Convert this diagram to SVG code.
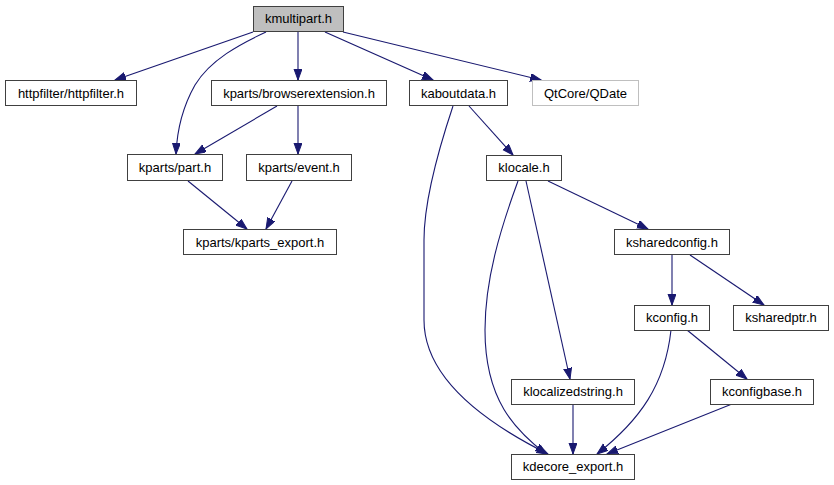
<svg xmlns="http://www.w3.org/2000/svg" width="834" height="485" viewBox="0 0 834 485">
<style>
.n rect{fill:#fff;stroke:#404040;stroke-width:1}
.n text{font-family:"Liberation Sans",Arial,sans-serif;font-size:13px;text-anchor:middle;fill:#000}
.e path{fill:none;stroke:#191970;stroke-width:1.1}
</style>
<defs>
<marker id="a" markerUnits="userSpaceOnUse" markerWidth="12" markerHeight="10" refX="11" refY="4" orient="auto">
<path d="M0,0 L11,4 L0,8 z" fill="#191970" stroke="#191970"/>
</marker>
</defs>
<rect width="834" height="485" fill="#fff"/>
<g id="edges" class="e">
<path marker-end="url(#a)" d="M253,32 L115,80"/>
<path marker-end="url(#a)" d="M266,32 C240,44 210,60 195,85 C182,108 177,130 176,154"/>
<path marker-end="url(#a)" d="M298,32 L298,80"/>
<path marker-end="url(#a)" d="M325,32 L433,80"/>
<path marker-end="url(#a)" d="M343,32 L541,80"/>
<path marker-end="url(#a)" d="M277,106 L195,154"/>
<path marker-end="url(#a)" d="M298,106 L298,154"/>
<path marker-end="url(#a)" d="M188,181 L247,229"/>
<path marker-end="url(#a)" d="M292,181 L266,229"/>
<path marker-end="url(#a)" d="M469,106 L513,155"/>
<path marker-end="url(#a)" d="M453,106 C440,145 424,200 424,240 L424,320 C424,380 490,425 548,454"/>
<path marker-end="url(#a)" d="M518,181 C500,230 485,280 485,330 C485,400 515,430 546,454"/>
<path marker-end="url(#a)" d="M526,181 L570,379"/>
<path marker-end="url(#a)" d="M548,181 L648,229"/>
<path marker-end="url(#a)" d="M672,255 L672,305"/>
<path marker-end="url(#a)" d="M690,255 L764,305"/>
<path marker-end="url(#a)" d="M671,330 C665,385 640,420 597,454"/>
<path marker-end="url(#a)" d="M687,330 L747,379"/>
<path marker-end="url(#a)" d="M732,404 L607,454"/>
<path marker-end="url(#a)" d="M573,404 L573,454"/>
</g>
<g id="kmultipart" class="n"><rect x="253.5" y="6.5" width="90" height="25" style="fill:#bfbfbf"/><text x="298.5" y="23">kmultipart.h</text></g>
<g id="httpfilter" class="n"><rect x="5.5" y="80.5" width="131" height="25"/><text x="71" y="97.5">httpfilter/httpfilter.h</text></g>
<g id="browserextension" class="n"><rect x="211.5" y="80.5" width="175" height="25"/><text x="299" y="97.5">kparts/browserextension.h</text></g>
<g id="kaboutdata" class="n"><rect x="409.5" y="80.5" width="98" height="25"/><text x="458.5" y="97.5">kaboutdata.h</text></g>
<g id="qdate" class="n"><rect x="532.5" y="80.5" width="106" height="25" style="stroke:#bfbfbf"/><text x="585.5" y="97.5">QtCore/QDate</text></g>
<g id="part" class="n"><rect x="127.5" y="154.5" width="95" height="26"/><text x="175" y="172">kparts/part.h</text></g>
<g id="event" class="n"><rect x="246.5" y="154.5" width="105" height="26"/><text x="299" y="172">kparts/event.h</text></g>
<g id="kparts_export" class="n"><rect x="183.5" y="229.5" width="153" height="25"/><text x="260" y="246.5">kparts/kparts_export.h</text></g>
<g id="klocale" class="n"><rect x="486.5" y="155.5" width="75" height="25"/><text x="524" y="172">klocale.h</text></g>
<g id="ksharedconfig" class="n"><rect x="614.5" y="229.5" width="115" height="25"/><text x="672" y="246.5">ksharedconfig.h</text></g>
<g id="kconfig" class="n"><rect x="634.5" y="305.5" width="75" height="25"/><text x="672" y="322">kconfig.h</text></g>
<g id="ksharedptr" class="n"><rect x="733.5" y="305.5" width="95" height="25"/><text x="781" y="322">ksharedptr.h</text></g>
<g id="klocalizedstring" class="n"><rect x="511.5" y="379.5" width="123" height="25"/><text x="573" y="396">klocalizedstring.h</text></g>
<g id="kconfigbase" class="n"><rect x="710.5" y="379.5" width="103" height="25"/><text x="762" y="396">kconfigbase.h</text></g>
<g id="kdecore_export" class="n"><rect x="511.5" y="454.5" width="123" height="25"/><text x="573" y="471">kdecore_export.h</text></g>
</svg>
